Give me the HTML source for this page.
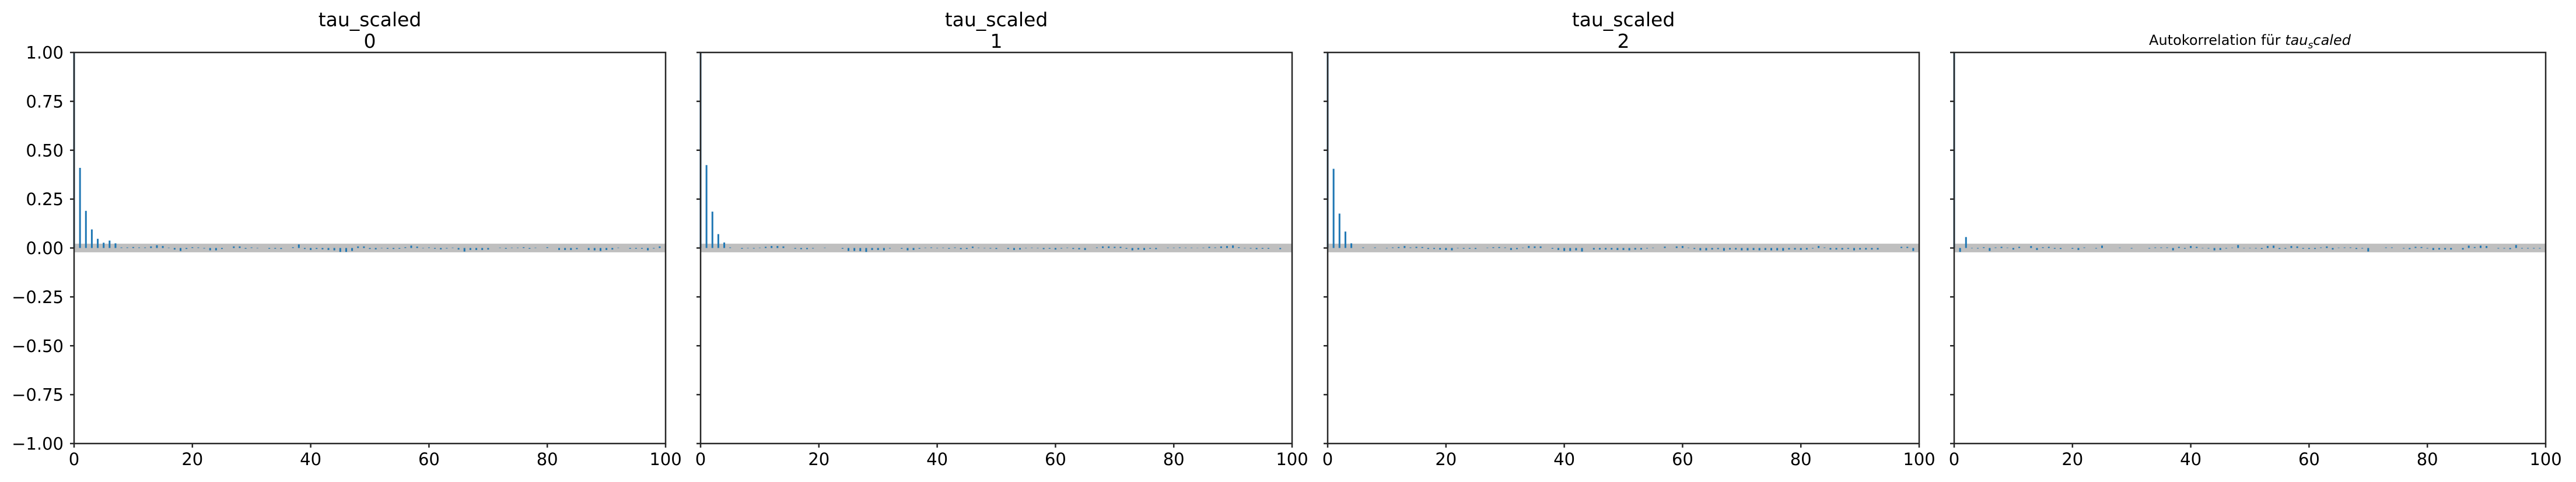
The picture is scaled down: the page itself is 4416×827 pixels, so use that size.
<!DOCTYPE html>
<html><head><meta charset="utf-8"><style>
body{margin:0;background:#fff}
svg{display:block;font-family:"DejaVu Sans","Liberation Sans",sans-serif}
</style></head><body>
<svg id="chart" width="4416" height="827" viewBox="0 0 4416 827" xmlns="http://www.w3.org/2000/svg"></svg>
<script>
const lags = Array.from({length:100},(_,i)=>i);
const xTicks = [0,20,40,60,80,100];
const yTicks = [1,0.75,0.5,0.25,0,-0.25,-0.5,-0.75,-1];
const yTickLabels = ["1.00","0.75","0.50","0.25","0.00","\u22120.25","\u22120.50","\u22120.75","\u22121.00"];
const bandHalf = 0.022;
const acf0 = [1,0.41,0.19,0.095,0.047,0.027,0.038,0.024,0.003,0.003,0.005,0.003,0.003,0.008,0.014,0.01,0.002,-0.008,-0.015,-0.005,0.004,0.003,-0.003,-0.012,-0.012,-0.005,0,0.008,0.008,-0.004,0.003,-0.002,0,-0.004,-0.004,-0.005,0,0.004,0.018,-0.005,-0.01,-0.005,-0.007,-0.01,-0.012,-0.02,-0.02,-0.015,0.008,0.008,-0.005,-0.007,-0.002,-0.004,-0.005,-0.004,0.004,0.012,0.007,-0.002,0.003,-0.004,-0.007,-0.003,0.002,-0.008,-0.018,-0.01,-0.01,-0.01,-0.008,0,0.002,-0.004,0.002,0.002,0.004,-0.004,0.002,0,0.004,0,-0.01,-0.01,-0.01,-0.006,0,-0.01,-0.012,-0.015,-0.01,-0.008,0.002,0,-0.004,-0.004,-0.004,-0.012,-0.003,0.008];
const acf1 = [1,0.424,0.186,0.071,0.028,0.003,0,-0.004,-0.002,-0.003,0.002,0.006,0.01,0.01,0.008,0,-0.004,-0.006,-0.006,-0.003,0,0.002,0,0,-0.004,-0.015,-0.015,-0.016,-0.02,-0.01,-0.01,-0.012,-0.003,0,-0.004,-0.012,-0.01,-0.004,0.002,0.003,-0.002,0.002,-0.004,0.003,-0.006,-0.005,0.007,0.002,-0.002,-0.003,-0.005,0,-0.005,-0.01,-0.008,-0.002,0.002,-0.002,-0.006,-0.004,-0.008,-0.003,0.002,-0.005,-0.007,-0.01,0,0.003,0.008,0.008,0.006,0.006,-0.004,-0.012,-0.008,-0.01,-0.004,-0.006,0,0.002,0.002,0.003,0.002,0.002,0.001,0.002,0.006,0.003,0.008,0.01,0.013,0.004,-0.002,-0.003,-0.006,-0.004,-0.004,0,-0.006,0];
const acf2 = [1,0.405,0.176,0.084,0.024,0,0.003,0,0.003,0,-0.002,0.003,0.005,0.01,0.003,0.006,0.005,-0.005,-0.005,-0.008,-0.01,-0.012,-0.002,-0.004,-0.004,-0.005,0,0.002,0.004,0.005,0.003,-0.01,-0.006,0.002,0.01,0.008,0.008,0,-0.004,-0.01,-0.015,-0.015,-0.012,-0.018,0,-0.008,-0.008,-0.008,-0.008,-0.01,-0.01,-0.012,-0.008,-0.008,-0.003,0.002,0,0.007,0,0.008,0.01,0.002,-0.005,-0.012,-0.012,-0.008,-0.006,-0.014,-0.008,-0.008,-0.012,-0.012,-0.01,-0.012,-0.01,-0.012,-0.012,-0.014,-0.008,-0.008,-0.01,-0.008,-0.003,0.01,0.003,-0.008,-0.008,-0.008,-0.005,-0.012,-0.008,-0.008,-0.008,-0.008,0,0,0,0.006,0.006,-0.015];
const acf3 = [1,-0.02,0.056,-0.002,-0.003,0.004,-0.015,0.003,0.006,0.002,-0.008,0.006,0,0.01,-0.01,0.004,0.006,-0.004,-0.005,0,-0.004,-0.01,0.003,0,-0.003,0.012,0,0,0.002,0,-0.003,0,0,-0.003,0.003,0.003,0.003,-0.012,0.006,-0.004,0.01,0.006,-0.002,-0.003,-0.012,-0.01,-0.003,0.002,0.015,-0.002,-0.002,-0.003,-0.005,0.01,0.012,-0.005,-0.004,0.01,0.008,-0.004,-0.005,-0.005,0.003,0.008,-0.008,0.002,0.003,0.003,-0.005,-0.003,-0.018,0,0,0.003,0.003,0,-0.003,-0.006,0.006,0.005,-0.003,-0.01,-0.008,-0.008,-0.008,0,-0.008,0.012,0.005,0.012,0.01,0,-0.003,-0.003,-0.006,0.015,-0.003,-0.003,-0.003,-0.003];
const series = [acf0,acf1,acf2,acf3];
const titles1 = ["tau_scaled","tau_scaled","tau_scaled",null];
const titles2 = ["0","1","2",null];

const NS="http://www.w3.org/2000/svg";
const svgRoot=document.getElementById('chart');
function el(tag,attrs,parent){const e=document.createElementNS(NS,tag);for(const k in attrs)e.setAttribute(k,attrs[k]);(parent||svgRoot).appendChild(e);return e;}
const panelLeft=[127,1201,2276,3350], panelW=1014, plotTop=90, plotBottom=761;
const yScale=v=>plotTop+(1-v)/2*(plotBottom-plotTop);

series.forEach((data,p)=>{
  const L=panelLeft[p];
  const xScale=v=>L+v/100*panelW;
  const g=el('g',{});
  
  
  const band=el('rect',{x:L,y:yScale(bandHalf),width:panelW,height:yScale(-bandHalf)-yScale(bandHalf),fill:'#bfbfbf'},g);
  
  
  lags.forEach((lag,i)=>{
    const v=data[i];
    const b=el('line',{x1:xScale(lag),x2:xScale(lag),y1:yScale(0),y2:yScale(v),stroke:'#1f77b4','stroke-width':3},g);
    
    
  });
  const frame=el('rect',{x:L,y:plotTop,width:panelW,height:plotBottom-plotTop,fill:'none',stroke:'#262626','stroke-width':2.5},g);
  
  
  yTicks.forEach((t,i)=>{
    el('line',{x1:L-7,x2:L,y1:yScale(t),y2:yScale(t),stroke:'#262626','stroke-width':2.5},g);
    if(p===0){
      const tx=el('text',{x:L-18,y:yScale(t)+10.5,'text-anchor':'end','font-size':29,fill:'#000'},g);
      tx.textContent=yTickLabels[i];
      
      
    }
  });
  xTicks.forEach(t=>{
    el('line',{x1:xScale(t),x2:xScale(t),y1:plotBottom,y2:plotBottom+7,stroke:'#262626','stroke-width':2.5},g);
    const tx=el('text',{x:xScale(t),y:798,'text-anchor':'middle','font-size':29,fill:'#000'},g);
    tx.textContent=String(t);
    
    
  });
  if(titles1[p]){
    const t1=el('text',{x:L+panelW/2,y:45,'text-anchor':'middle','font-size':33,fill:'#000'},g);
    t1.textContent=titles1[p];
    
    
    const t2=el('text',{x:L+panelW/2,y:82,'text-anchor':'middle','font-size':33,fill:'#000'},g);
    t2.textContent=titles2[p];
    
    
  } else {
    const t=el('text',{x:L+panelW/2,y:77,'text-anchor':'middle','font-size':24,fill:'#000'},g);
    
    
    t.innerHTML='Autokorrelation für <tspan font-style="italic">tau</tspan><tspan font-style="italic" font-size="17" dy="6">s</tspan><tspan font-style="italic" dy="-6">caled</tspan>';
  }
});
</script>
</body></html>
